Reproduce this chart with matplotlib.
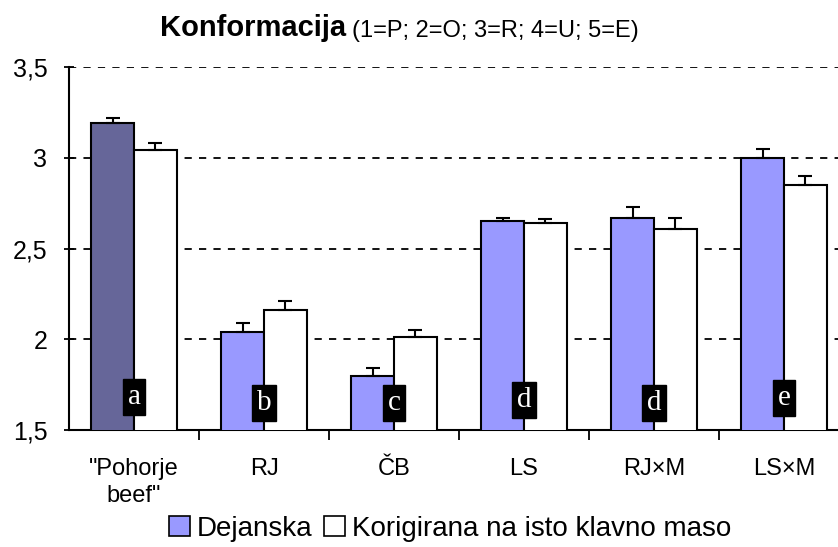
import numpy as np
import matplotlib
matplotlib.use("Agg")
import matplotlib.pyplot as plt
from matplotlib.patches import Patch
from matplotlib.ticker import FuncFormatter, FixedLocator

# data
categories = ['"Pohorje\nbeef"', "RJ", "ČB", "LS", "RJ×M", "LS×M"]
dejanska = [3.19, 2.04, 1.80, 2.65, 2.67, 3.00]
dejanska_err = [0.03, 0.05, 0.04, 0.02, 0.06, 0.05]
korigirana = [3.04, 2.16, 2.01, 2.64, 2.61, 2.85]
korigirana_err = [0.04, 0.05, 0.04, 0.02, 0.06, 0.05]
letters = ["a", "b", "c", "d", "d", "e"]
letter_y = [1.68, 1.65, 1.65, 1.665, 1.65, 1.675]

plt.rcParams["font.family"] = ["Liberation Sans", "DejaVu Sans"]

fig = plt.figure(figsize=(8.38, 5.47), dpi=100)
W, H = 838.0, 547.0
ax = fig.add_axes([69 / W, (H - 430) / H, 780 / W, 363 / H])

x = np.arange(len(categories))
w = 0.33
colors = ["#666699"] + ["#9999FF"] * (len(categories) - 1)
ax.bar(x - w / 2, dejanska, w, color=colors, edgecolor="black",
       linewidth=1.5, zorder=3)
ax.bar(x + w / 2, korigirana, w, color="white", edgecolor="black",
       linewidth=1.5, zorder=3)
ax.errorbar(x - w / 2, dejanska, yerr=[np.zeros(len(x)), dejanska_err],
            fmt="none", ecolor="black", elinewidth=1.5, capsize=5,
            capthick=1.5, zorder=4)
ax.errorbar(x + w / 2, korigirana, yerr=[np.zeros(len(x)), korigirana_err],
            fmt="none", ecolor="black", elinewidth=1.5, capsize=5,
            capthick=1.5, zorder=4)

for xi, yi, s in zip(x, letter_y, letters):
    ax.text(xi, yi, s, ha="center", va="center", color="white",
            family="Liberation Serif", fontsize=21, zorder=5,
            bbox=dict(facecolor="black", edgecolor="black", pad=3.5))

ax.set_ylim(1.5, 3.5)
ax.set_xlim(-0.5, 5.5)
ax.set_yticks([1.5, 2, 2.5, 3, 3.5])
ax.yaxis.set_major_formatter(FuncFormatter(
    lambda v, p: ("%g" % v).replace(".", ",")))
for g in [2, 2.5, 3, 3.5]:
    ax.axhline(g, color="black", linestyle=(0, (4, 4)), linewidth=1.3,
               zorder=1)

ax.set_xticks(x)
ax.set_xticklabels(categories, fontsize=17, linespacing=1.3)
ax.tick_params(axis="x", which="major", length=0, pad=20)
ax.xaxis.set_minor_locator(FixedLocator(np.arange(0.5, 5.5, 1)))
ax.tick_params(axis="x", which="minor", length=7, width=1.3, direction="out")
ax.tick_params(axis="y", length=7, width=1.3, direction="inout",
               labelsize=18, pad=12)
for s in ["top", "right"]:
    ax.spines[s].set_visible(False)
ax.spines["left"].set_linewidth(1.5)
ax.spines["bottom"].set_linewidth(1.5)

t1 = fig.text(160 / W, 1 - 28 / H, "Konformacija", fontsize=21,
              fontweight="bold", va="center", ha="left")
fig.canvas.draw()
ax.annotate("(1=P; 2=O; 3=R; 4=U; 5=E)", xy=(1, 0), xycoords=t1,
            xytext=(4, 0), textcoords="offset points", fontsize=17,
            va="bottom", ha="left")

handles = [Patch(facecolor="#9999FF", edgecolor="black", linewidth=1.2),
           Patch(facecolor="white", edgecolor="black", linewidth=1.2)]
fig.legend(handles, ["Dejanska", "Korigirana na isto klavno maso"],
           loc="center", bbox_to_anchor=(450 / W, 1 - 529 / H), ncol=2,
           frameon=False, fontsize=20, handlelength=0.75, handleheight=0.75,
           handletextpad=0.25, columnspacing=0.4, borderaxespad=0)

fig.savefig("out.png", dpi=100)
